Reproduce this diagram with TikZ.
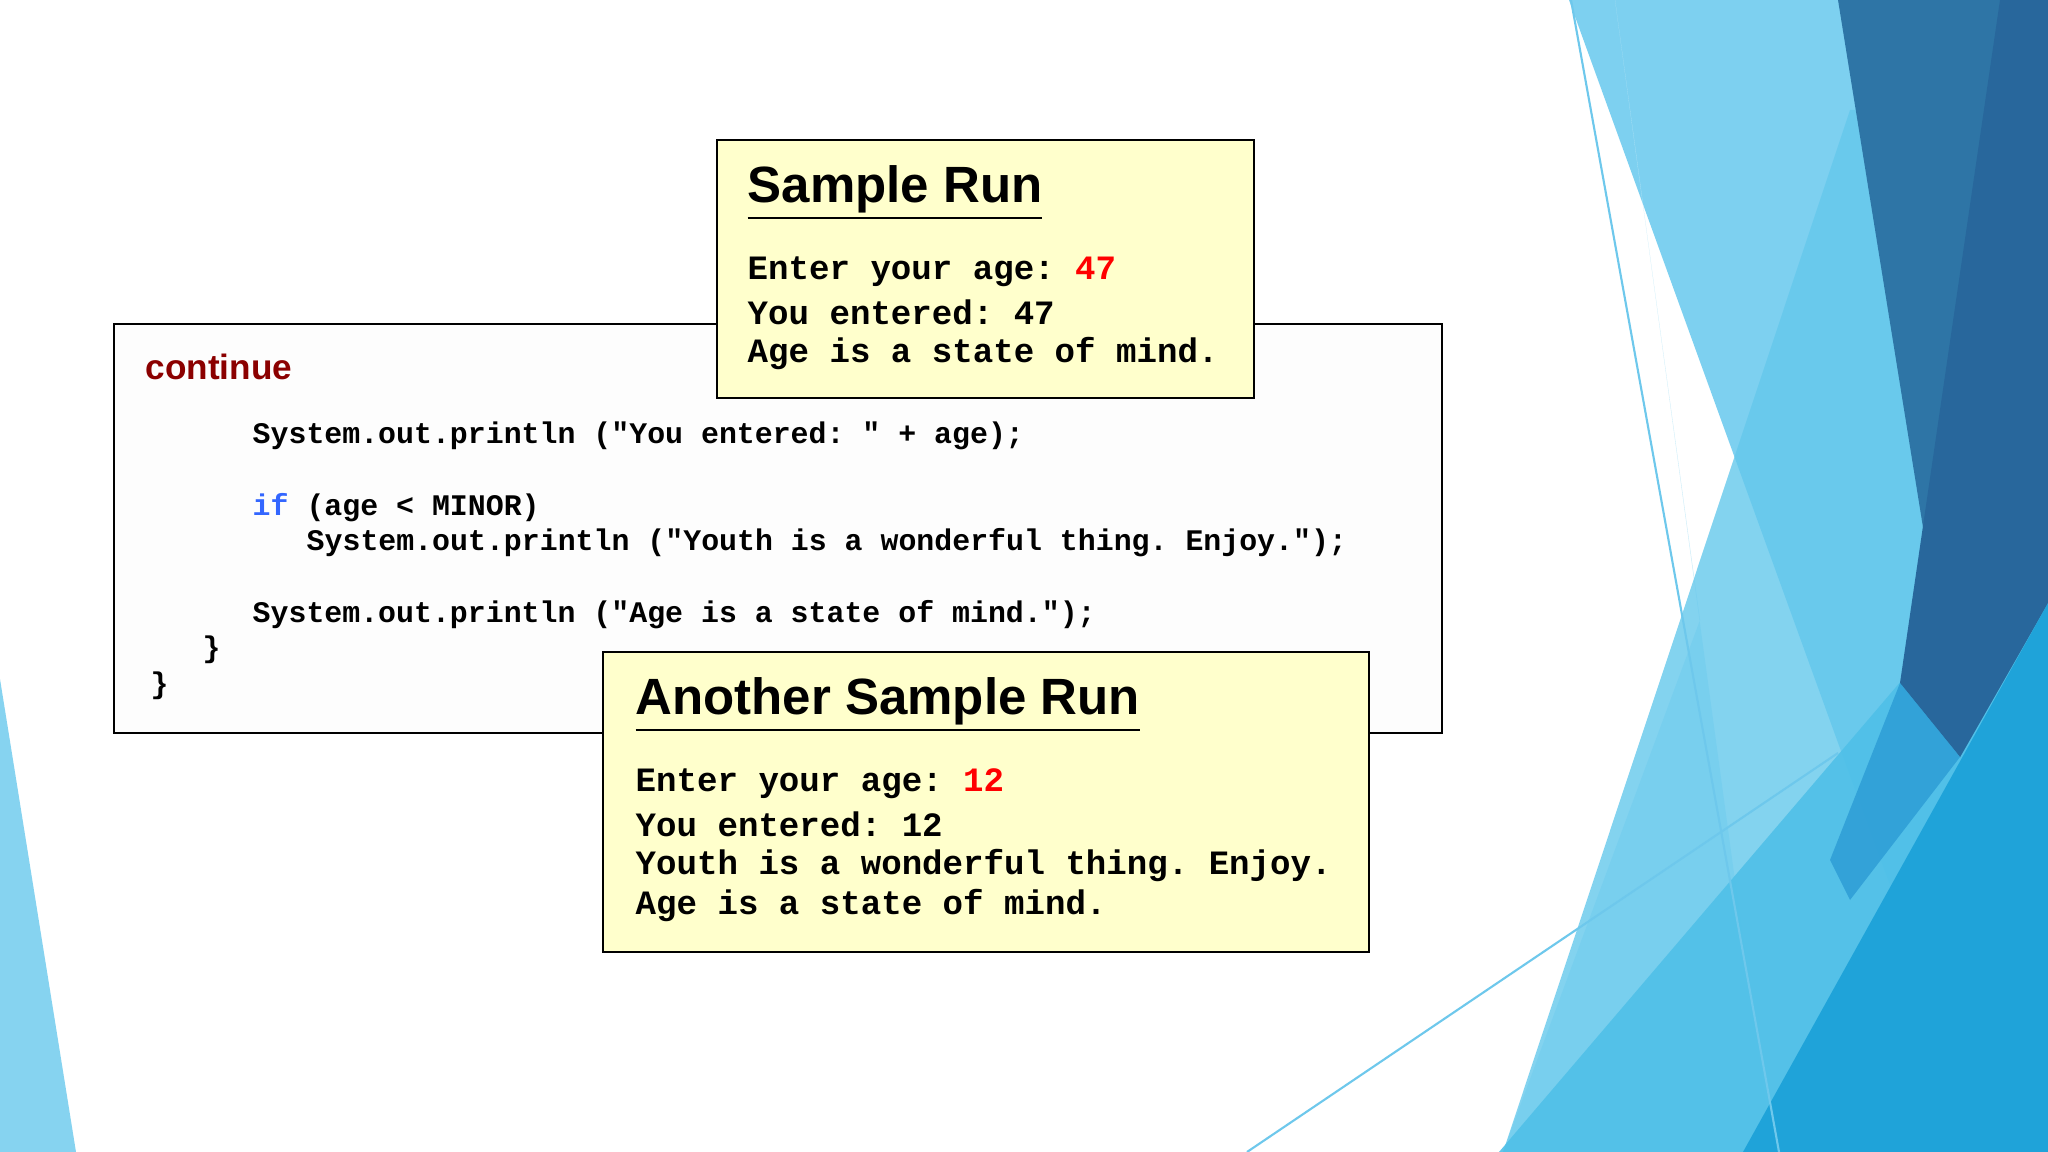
\documentclass[tikz,border=0pt]{standalone}
\usepackage{fontspec}
\setmainfont{Liberation Sans}
\setmonofont{Liberation Mono}
\definecolor{dred}{HTML}{8B0000}
\definecolor{kwblue}{HTML}{3366FF}
\definecolor{outred}{HTML}{FF0000}
\definecolor{boxyel}{HTML}{FFFFCC}
\begin{document}
\begin{tikzpicture}[x=0.01cm,y=-0.01cm,
  code/.style={anchor=west,inner sep=0pt,font=\fontsize{8.5}{10}\selectfont\ttfamily\bfseries},
  runline/.style={anchor=west,inner sep=0pt,font=\fontsize{9.7}{12}\selectfont\ttfamily\bfseries},
  ttl/.style={anchor=west,inner sep=0pt,font=\fontsize{14.5}{16}\selectfont\bfseries},
  panel/.style={draw=black,line width=0.6pt}]
\useasboundingbox (0,0) rectangle (2048,1152);
\fill[white] (0,0) rectangle (2048,1152);
% decorations
\fill[color={rgb,255:red,125;green,208;blue,240}] (1569,0) -- (2048,0) -- (2048,1152) -- (1990,1152) -- (1875,845) -- cycle;
\fill[color={rgb,255:red,197;green,234;blue,248},fill opacity=0.9] (1615,0) -- (1772,1152) -- (1503,1152) -- (1700,620) -- cycle;
\fill[color={rgb,255:red,100;green,200;blue,236},fill opacity=0.8] (1850,110) -- (2048,110) -- (2048,1152) -- (1503,1152) -- cycle;
\fill[color={rgb,255:red,79;green,192;blue,232},fill opacity=0.9] (1499,1152) -- (1937,639) -- (2048,560) -- (2048,1152) -- cycle;
\fill[color={rgb,255:red,46;green,117;blue,166}] (1838,0) -- (2048,0) -- (2048,603) -- (1960,757) -- cycle;
\fill[color={rgb,255:red,40;green,103;blue,156}] (2000,0) -- (2048,0) -- (2048,603) -- (1960,757) -- (1900,683) -- cycle;
\fill[color={rgb,255:red,38;green,150;blue,210},fill opacity=0.7] (1900,683) -- (1960,757) -- (1850,900) -- (1830,860) -- cycle;
\fill[color={rgb,255:red,31;green,163;blue,217}] (1743,1152) -- (2048,603) -- (2048,1152) -- cycle;
\draw[color={rgb,255:red,110;green,200;blue,236},line width=0.6pt] (1571,0) -- (1779,1152);
\draw[color={rgb,255:red,110;green,200;blue,236},line width=0.6pt] (1247,1152) -- (1838,753);
\fill[color={rgb,255:red,134;green,211;blue,240}] (0,679) -- (76,1152) -- (0,1152) -- cycle;
% code panel
\path[panel,fill={rgb,255:red,253;green,253;blue,253}] (114,324) coordinate (codeNW) rectangle (1442,733) coordinate (codeSE);
\node[anchor=west,inner sep=0pt,text=dred,font=\fontsize{10}{12}\selectfont\bfseries] (cont) at (145,367) {continue};
\node[code] (c1) at (252,436) {System.out.println ("You entered: " + age);};
\node[code] (c2) at (252,508) {\textcolor{kwblue}{if} (age < MINOR)};
\node[code] (c3) at (306,543) {System.out.println ("Youth is a wonderful thing. Enjoy.");};
\node[code] (c4) at (252,615) {System.out.println ("Age is a state of mind.");};
\node[code] (c5) at (202,650) {\}};
\node[code] (c6) at (150,686) {\}};
% sample run 1
\path[panel,fill=boxyel] (717,140) coordinate (run1NW) rectangle (1254,398) coordinate (run1SE);
\node[ttl] (t1) at (747,193) {\underline{Sample Run}};
\node[runline] (a1) at (747,272) {Enter your age: \textcolor{outred}{47}};
\node[runline] (a2) at (747,312) {You entered: 47};
\node[runline] (a3) at (747,354) {Age is a state of mind.};
% sample run 2
\path[panel,fill=boxyel] (603,652) coordinate (run2NW) rectangle (1369,952) coordinate (run2SE);
\node[ttl] (t2) at (635,705) {\underline{Another Sample Run}};
\node[runline] (b1) at (635,784) {Enter your age: \textcolor{outred}{12}};
\node[runline] (b2) at (635,824) {You entered: 12};
\node[runline] (b3) at (635,866) {Youth is a wonderful thing. Enjoy.};
\node[runline] (b4) at (635,906) {Age is a state of mind.};
\end{tikzpicture}
\end{document}
